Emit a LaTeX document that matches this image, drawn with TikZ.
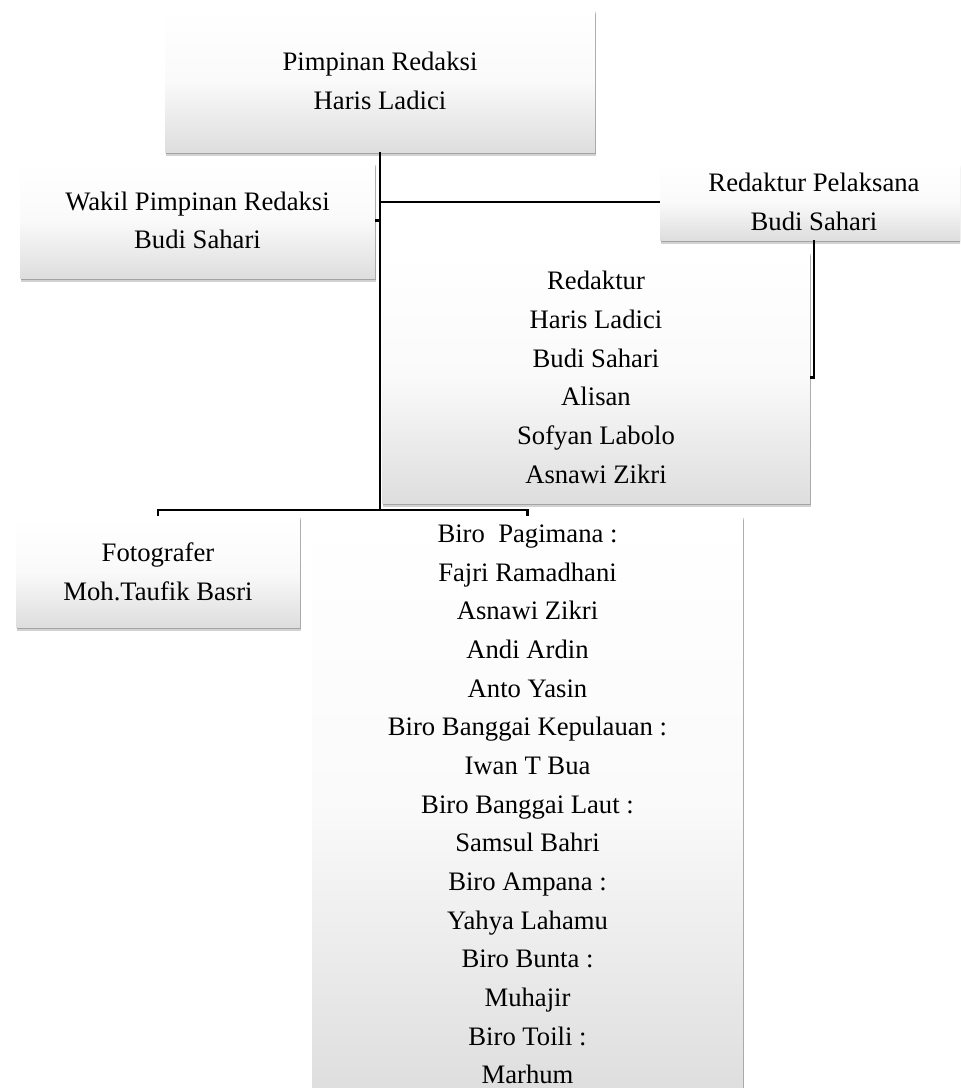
\documentclass[tikz,border=0pt]{standalone}
\usepackage{fontspec}
\setmainfont{Liberation Serif}
\usetikzlibrary{shadows}
\newcommand{\pxu}{0.75pt}
\tikzset{
  orgbox/.style={rectangle, top color=white, bottom color=black!13, middle color=black!2,
    drop shadow={shadow xshift=0.9pt, shadow yshift=-3.2pt, opacity=0.25, fill=black!70},
    drop shadow={shadow xshift=0.6pt, shadow yshift=-1.8pt, opacity=0.35, fill=black!70},
    align=center, inner sep=0pt, font=\fontsize{20}{29}\selectfont},
  conn/.style={line width=1.9pt, black}
}
\begin{document}
\begin{tikzpicture}[x=0.75pt,y=-0.75pt]
    \clip[use as bounding box] (0,0) rectangle (960,1088);
    \node[orgbox, minimum width=430*\pxu, minimum height=142*\pxu] (pimpinan) at (380,81) {Pimpinan Redaksi\\Haris Ladici};
    \node[orgbox, minimum width=355*\pxu, minimum height=115*\pxu] (wakil) at (197.5,220.5) {Wakil Pimpinan Redaksi\\Budi Sahari};
    \node[orgbox, minimum width=308*\pxu, minimum height=76*\pxu] (pelaksana) at (814,202) {Redaktur Pelaksana\\Budi Sahari};
    \node[orgbox, minimum width=428*\pxu, minimum height=251*\pxu] (redaktur) at (596,377.5) {Redaktur\\Haris Ladici\\Budi Sahari\\Alisan\\Sofyan Labolo\\Asnawi Zikri};
    \node[orgbox, minimum width=284*\pxu, minimum height=111*\pxu] (fotografer) at (158,571.5) {Fotografer\\Moh.Taufik Basri};
    \node[orgbox, minimum width=431*\pxu, minimum height=577*\pxu] (biro) at (527.5,804.5) {Biro~ Pagimana :\\Fajri Ramadhani\\Asnawi Zikri\\Andi Ardin\\Anto Yasin\\Biro Banggai Kepulauan :\\Iwan T Bua\\Biro Banggai Laut :\\Samsul Bahri\\Biro Ampana :\\Yahya Lahamu\\Biro Bunta :\\Muhajir\\Biro Toili :\\Marhum};
    \coordinate (cabang) at (380,510);
    \draw[conn] (pimpinan.south) -- (cabang);
    \draw[conn] (pimpinan.south |- pelaksana.west) -- (pelaksana.west);
    \draw[conn] (wakil.east) -- (wakil.east -| pimpinan.south);
    \draw[conn] (pelaksana.south) -- (pelaksana.south |- redaktur.east) -- (redaktur.east);
    \draw[conn] (fotografer.north) -- (fotografer.north |- cabang) -- (biro.north |- cabang) -- (biro.north);
\end{tikzpicture}
\end{document}
